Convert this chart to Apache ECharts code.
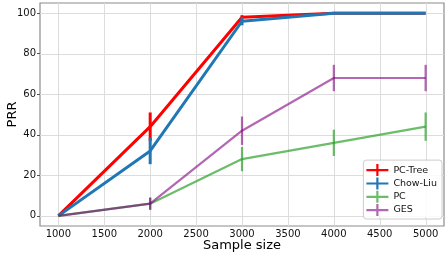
<!DOCTYPE html>
<html><head><meta charset="utf-8">
<script src="https://cdn.jsdelivr.net/npm/echarts@6/dist/echarts.min.js"></script>
<style>html,body{margin:0;padding:0;background:#fff}#c{width:447px;height:255px}</style>
</head><body><div id="c"></div>
<script>
const sampleSizes = [1000, 2000, 3000, 4000, 5000];
const xTicks = [1000, 1500, 2000, 2500, 3000, 3500, 4000, 4500, 5000];
const yTicks = [0, 20, 40, 60, 80, 100];
const seriesNames = ['PC-Tree', 'Chow-Liu', 'PC', 'GES'];
const pcTree = [0, 44, 98, 100, 100];
const pcTreeErr = [0, 7, 1, 0, 0];
const chowLiu = [0, 32, 96, 100, 100];
const chowLiuErr = [0, 6.5, 2, 0, 0];
const pc = [0, 6, 28, 36, 44];
const pcErr = [0, 3, 6, 6.5, 7];
const ges = [0, 6, 42, 68, 68];
const gesErr = [0, 3, 7, 6.5, 6.5];

const colors = ['#ff0000', '#1f77b4', 'rgba(44,160,44,0.7)', 'rgba(128,0,128,0.6)'];
const values = [pcTree, chowLiu, pc, ges];
const errs = [pcTreeErr, chowLiuErr, pcErr, gesErr];
const widths = [3, 3, 2.2, 2.2];

const chart = echarts.init(document.getElementById('c'), null, {renderer: 'canvas'});
const series = [];
const gridStyle = {stroke: '#dcdcdc', lineWidth: 1};
series.push({
  type: 'custom', silent: true, z: 1, animation: false,
  data: xTicks.map(v => [v, 0]),
  renderItem: function (params, api) {
    const cs = params.coordSys;
    const x = Math.round(api.coord([api.value(0), 0])[0]) + 0.5;
    return {type: 'line', shape: {x1: x, y1: cs.y, x2: x, y2: cs.y + cs.height}, style: gridStyle};
  }
});
series.push({
  type: 'custom', silent: true, z: 1, animation: false,
  data: yTicks.map(v => [1000, v]),
  renderItem: function (params, api) {
    const cs = params.coordSys;
    const y = Math.round(api.coord([1000, api.value(1)])[1]) + 0.5;
    return {type: 'line', shape: {x1: cs.x, y1: y, x2: cs.x + cs.width, y2: y}, style: gridStyle};
  }
});
values.forEach((vals, i) => {
  series.push({
    name: seriesNames[i], type: 'line', z: 2 + i,
    data: sampleSizes.map((x, j) => [x, vals[j]]),
    showSymbol: false, symbol: 'none',
    lineStyle: {color: colors[i], width: widths[i]},
    itemStyle: {color: colors[i]},
    animation: false
  });
  series.push({
    name: seriesNames[i] + '_err', type: 'custom', z: 2 + i, silent: true,
    data: sampleSizes.map((x, j) => [x, vals[j], errs[i][j]]),
    renderItem: function (params, api) {
      const x = api.value(0), y = api.value(1), e = api.value(2);
      if (!e) return {type: 'group', children: []};
      const p1 = api.coord([x, y - e]);
      const p2 = api.coord([x, y + e]);
      return {type: 'line', shape: {x1: p1[0], y1: p1[1], x2: p2[0], y2: p2[1]},
        style: {stroke: colors[i], lineWidth: widths[i]}};
    },
    animation: false
  });
});

chart.setOption({
  animation: false,
  textStyle: {fontFamily: 'DejaVu Sans'},
  grid: {left: 40, right: 3, top: 3, bottom: 29, containLabel: false, outerBoundsMode: 'none',
    show: true, borderColor: '#8c8c8c', borderWidth: 1.2, backgroundColor: '#fff'},
  legend: {
    right: 5, bottom: 36, orient: 'vertical',
    itemWidth: 22, itemHeight: 12, itemGap: 1.3,
    padding: [4, 5, 3, 3],
    backgroundColor: 'rgba(255,255,255,0.85)', borderColor: '#cccccc', borderWidth: 1, borderRadius: 3,
    textStyle: {fontSize: 9.5, color: '#111', fontFamily: 'DejaVu Sans'},
    data: seriesNames.map((n, i) => ({name: n, icon: 'path://M0,5h22v2.2h-22z M9.9,0h2.2v12h-2.2z', itemStyle: {color: colors[i]}}))
  },
  xAxis: {
    type: 'value', min: 800, max: 5200,
    name: 'Sample size', nameLocation: 'middle', nameGap: 13, nameMoveOverlap: false,
    nameTextStyle: {fontSize: 13, color: '#000', verticalAlign: 'top'},
    axisLine: {show: false},
    axisTick: {show: true, customValues: xTicks, length: 3, lineStyle: {color: '#555'}},
    axisLabel: {customValues: xTicks, fontSize: 10, color: '#111', margin: 3, formatter: v => String(v)},
    splitLine: {show: false}
  },
  yAxis: {
    type: 'value', min: -5, max: 105,
    name: 'PRR', nameLocation: 'middle', nameGap: 21, nameMoveOverlap: false,
    nameTextStyle: {fontSize: 13, color: '#000'},
    axisLine: {show: false},
    axisTick: {show: true, customValues: yTicks, length: 3, lineStyle: {color: '#555'}},
    axisLabel: {customValues: yTicks, fontSize: 10, color: '#111', margin: 4, formatter: v => String(v)},
    splitLine: {show: false}
  },
  series: series
});
</script></body></html>
